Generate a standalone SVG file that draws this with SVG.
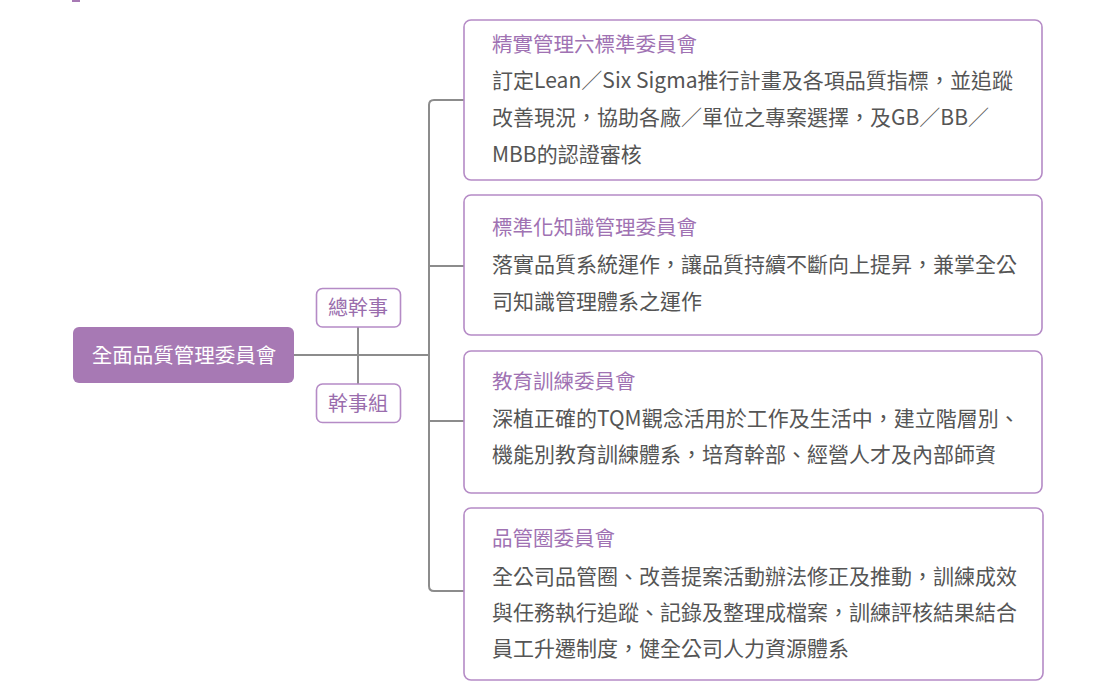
<svg xmlns="http://www.w3.org/2000/svg" width="1096" height="684" viewBox="0 0 1096 684">
<style>
.conn{fill:none;stroke:#8c8c8c;stroke-width:2}
.box{fill:#ffffff;stroke:#b58bc6;stroke-width:1.6}
.sub{fill:#ffffff;stroke:#b58bc6;stroke-width:1.6}
.t{font-family:"Noto Sans CJK TC","Noto Sans CJK SC",sans-serif;}
.title{font-size:20.5px;fill:#a072b3}
.body{font-size:21px;fill:#555555}
.subt{font-size:20px;fill:#9a6dad}
.root{font-size:20.5px;fill:#ffffff}
</style>
<rect x="72" y="0" width="8" height="2" fill="#a779b4"/>
<g id="connectors">
<line class="conn" x1="294" y1="355" x2="429" y2="355"/>
<line class="conn" x1="358" y1="327" x2="358" y2="384"/>
<path class="conn" d="M464,100 H434 Q429,100 429,105 V586 Q429,591 434,591 H464"/>
<line class="conn" x1="429" y1="266" x2="464" y2="266"/>
<line class="conn" x1="429" y1="421" x2="464" y2="421"/>
</g>
<g id="root">
<rect x="73" y="327" width="221" height="56" rx="6" fill="#a779b4"/>
<text class="t root" x="184" y="362.5" text-anchor="middle">全面品質管理委員會</text>
</g>
<g id="general-secretary">
<rect class="sub" x="316.5" y="288.5" width="84" height="38.5" rx="6"/>
<text class="t subt" x="358" y="315" text-anchor="middle">總幹事</text>
</g>
<g id="secretariat">
<rect class="sub" x="316.5" y="384" width="84" height="38.5" rx="6"/>
<text class="t subt" x="358" y="410.5" text-anchor="middle">幹事組</text>
</g>
<g id="lean-six-sigma">
<rect class="box" x="464" y="20" width="578" height="160" rx="7"/>
<text class="t title" x="492" y="51.5">精實管理六標準委員會</text>
<text class="t body" x="492" y="88" textLength="521" lengthAdjust="spacing">訂定Lean／Six Sigma推行計畫及各項品質指標，並追蹤</text>
<text class="t body" x="492" y="125" textLength="497" lengthAdjust="spacing">改善現況，協助各廠／單位之專案選擇，及GB／BB／</text>
<text class="t body" x="492" y="162">MBB的認證審核</text>
</g>
<g id="knowledge-management">
<rect class="box" x="464" y="195" width="578" height="140" rx="7"/>
<text class="t title" x="492" y="235">標準化知識管理委員會</text>
<text class="t body" x="492" y="272">落實品質系統運作，讓品質持續不斷向上提昇，兼掌全公</text>
<text class="t body" x="492" y="309">司知識管理體系之運作</text>
</g>
<g id="education-training">
<rect class="box" x="464" y="351" width="578" height="142" rx="7"/>
<text class="t title" x="492" y="389">教育訓練委員會</text>
<text class="t body" x="492" y="426">深植正確的TQM觀念活用於工作及生活中，建立階層別、</text>
<text class="t body" x="492" y="462">機能別教育訓練體系，培育幹部、經營人才及內部師資</text>
</g>
<g id="qcc">
<rect class="box" x="464" y="508" width="579" height="172" rx="7"/>
<text class="t title" x="492" y="546">品管圈委員會</text>
<text class="t body" x="492" y="583.5">全公司品管圈、改善提案活動辦法修正及推動，訓練成效</text>
<text class="t body" x="492" y="620">與任務執行追蹤、記錄及整理成檔案，訓練評核結果結合</text>
<text class="t body" x="492" y="656">員工升遷制度，健全公司人力資源體系</text>
</g>
</svg>
